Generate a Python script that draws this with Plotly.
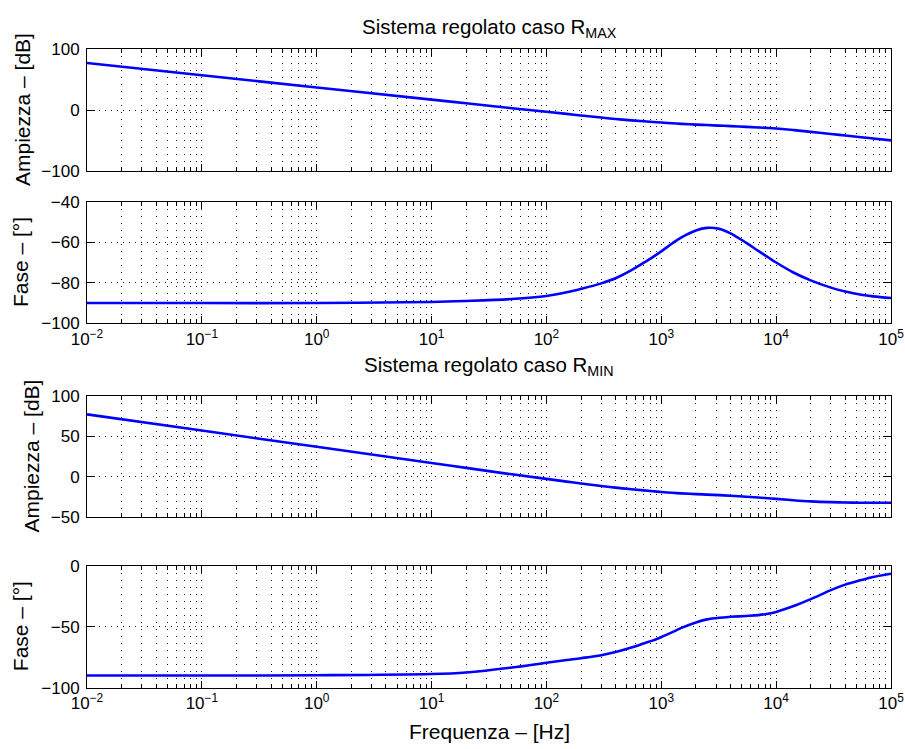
import plotly.graph_objects as go

# ---------------- data ----------------
freq_hz = [0.01, 0.1, 1, 10, 20, 50, 100, 150, 200, 300, 400, 550, 700, 850,
           1000, 1250, 1500, 2000, 2500, 3200, 4000, 5500, 7000, 8500,
           10000, 14000, 20000, 30000, 40000, 55000, 70000, 100000]

mag_rmax_db = [77, 57, 37, 17, 11, 3, -2.8, -6.4, -8.9, -12.4, -14.8, -17, -18.5, -19.7,
               -20.6, -21.8, -22.7, -23.9, -24.7, -25.6, -26.4, -27.6, -28.6, -29.5,
               -30.4, -32.8, -35.8, -39.3, -41.8, -44.6, -46.7, -49.8]
phase_rmax_deg = [-90, -90, -90, -89.5, -89, -88, -86.5, -84.7, -83, -80.3, -77.8, -73.8, -70.2, -67.2,
                  -64.5, -60.5, -57.6, -54.2, -52.9, -53.4, -55.6, -60.3, -64.3, -67.4,
                  -70, -74.8, -78.8, -82.4, -84.3, -85.9, -86.7, -87.5]

mag_rmin_db = [77, 57, 37, 17, 11, 3, -2.6, -6, -8.3, -11.4, -13.4, -15.4, -16.8, -17.9,
               -18.8, -19.8, -20.5, -21.4, -22, -22.7, -23.4, -24.6, -25.6, -26.5,
               -27.3, -28.9, -30.3, -31.3, -31.7, -32, -32.1, -32.1]
phase_rmin_deg = [-90, -90, -89.8, -88.8, -87.5, -83.5, -79.5, -77.3, -75.8, -73.4, -70.8, -67.1, -63.8, -61.2,
                  -58.5, -54.5, -51, -46.5, -44, -42.6, -41.9, -41.2, -40.5, -39.4,
                  -37.9, -33.3, -27.4, -20, -15.5, -11.8, -9.3, -6.6]

x_tick_vals = [1e-2, 1e-1, 1e0, 1e1, 1e2, 1e3, 1e4, 1e5]
x_tick_text = ["10<sup>\u22122</sup>", "10<sup>\u22121</sup>", "10<sup>0</sup>",
               "10<sup>1</sup>", "10<sup>2</sup>", "10<sup>3</sup>",
               "10<sup>4</sup>", "10<sup>5</sup>"]
x_minor_vals = [m * 10 ** e for e in range(-2, 5) for m in range(2, 10)]

y_ticks_mag_max = [-100, 0, 100]
y_ticks_phase_max = [-100, -80, -60, -40]
y_ticks_mag_min = [-50, 0, 50, 100]
y_ticks_phase_min = [-100, -50, 0]

title_max = "Sistema regolato caso R<sub>MAX</sub>"
title_min = "Sistema regolato caso R<sub>MIN</sub>"
label_mag = "Ampiezza \u2013 [dB]"
label_phase = "Fase \u2013 [\u00b0]"
label_freq = "Frequenza \u2013 [Hz]"

# ---------------- figure ----------------
W, H = 905, 749
ML, MR, MT, MB = 87, 14, 49, 61
PH = H - MT - MB


def dom(top_px, bot_px):
    return [(H - MB - bot_px) / PH, (H - MB - top_px) / PH]


domains = [dom(49, 171), dom(201.7, 323.3), dom(395.7, 517.3), dom(565.7, 687.7)]

FONT = "Liberation Sans, Arial, Helvetica, sans-serif"
LINE = dict(color="#0000ff", width=2.6)
GRID = "rgba(0,0,0,0.9)"

fig = go.Figure()
series = [mag_rmax_db, phase_rmax_deg, mag_rmin_db, phase_rmin_deg]
for i, ys in enumerate(series):
    sfx = "" if i == 0 else str(i + 1)
    fig.add_trace(go.Scatter(x=freq_hz, y=ys, mode="lines",
                             line=dict(shape="spline", smoothing=1.0, **LINE),
                             xaxis="x" + sfx, yaxis="y" + sfx, showlegend=False,
                             hoverinfo="x+y"))

yranges = [[-100, 100], [-100, -40], [-50, 100], [-100, 0]]
yticks = [y_ticks_mag_max, y_ticks_phase_max, y_ticks_mag_min, y_ticks_phase_min]

layout = dict(
    width=W, height=H, autosize=False,
    margin=dict(l=ML, r=MR, t=MT, b=MB),
    paper_bgcolor="white", plot_bgcolor="white",
    font=dict(family=FONT, size=17, color="black"),
    showlegend=False,
)

for i in range(4):
    sfx = "" if i == 0 else str(i + 1)
    show_lbl = i in (1, 3)
    layout["xaxis" + sfx] = dict(
        type="log", range=[-2, 5], domain=[0, 1], anchor="y" + sfx, automargin=False,
        tickmode="array", tickvals=x_tick_vals, ticktext=x_tick_text,
        showticklabels=show_lbl, ticks="inside", ticklen=7, tickwidth=1, tickcolor="black",
        ticklabeloverflow="allow",
        showline=True, linecolor="black", linewidth=1, mirror="ticks",
        showgrid=True, gridcolor=GRID, gridwidth=1, griddash="1px,6px",
        zeroline=False, tickfont=dict(size=17),
        minor=dict(tickmode="array", tickvals=x_minor_vals, ticks="inside", ticklen=4,
                   tickcolor="black", showgrid=True, gridcolor=GRID,
                   gridwidth=1, griddash="1px,6px"),
    )
    layout["yaxis" + sfx] = dict(
        range=yranges[i], domain=domains[i], anchor="x" + sfx, automargin=False,
        tickmode="array", tickvals=yticks[i],
        ticks="inside", ticklen=8, tickwidth=1, tickcolor="black",
        showline=True, linecolor="black", linewidth=1, mirror="ticks",
        showgrid=True, gridcolor=GRID, gridwidth=1, griddash="1px,5px",
        zeroline=False, tickfont=dict(size=17), ticklabelstandoff=3,
    )

fig.update_layout(**layout)

ann = []
# titles
ann.append(dict(text=title_max, xref="paper", yref="paper", x=0.5, y=1, xanchor="center",
                yanchor="bottom", yshift=6, showarrow=False, font=dict(size=20.5)))
ann.append(dict(text=title_min, xref="paper", yref="paper", x=0.5, y=domains[2][1], xanchor="center",
                yanchor="bottom", yshift=15, showarrow=False, font=dict(size=20.5)))
# x label
ann.append(dict(text=label_freq, xref="paper", yref="paper", x=0.5, y=0, xanchor="center",
                yanchor="top", yshift=-30, showarrow=False, font=dict(size=21)))
# y labels
ylab = [(label_mag, 22), (label_phase, 20.5), (label_mag, 31), (label_phase, 20.5)]
for i, (txt, cx) in enumerate(ylab):
    ann.append(dict(text=txt, xref="paper", yref="paper", x=0, y=(domains[i][0] + domains[i][1]) / 2,
                    xanchor="center", yanchor="middle", xshift=cx - ML, textangle=-90,
                    showarrow=False, font=dict(size=21)))
fig.update_layout(annotations=ann)

fig.write_html("out.html")
